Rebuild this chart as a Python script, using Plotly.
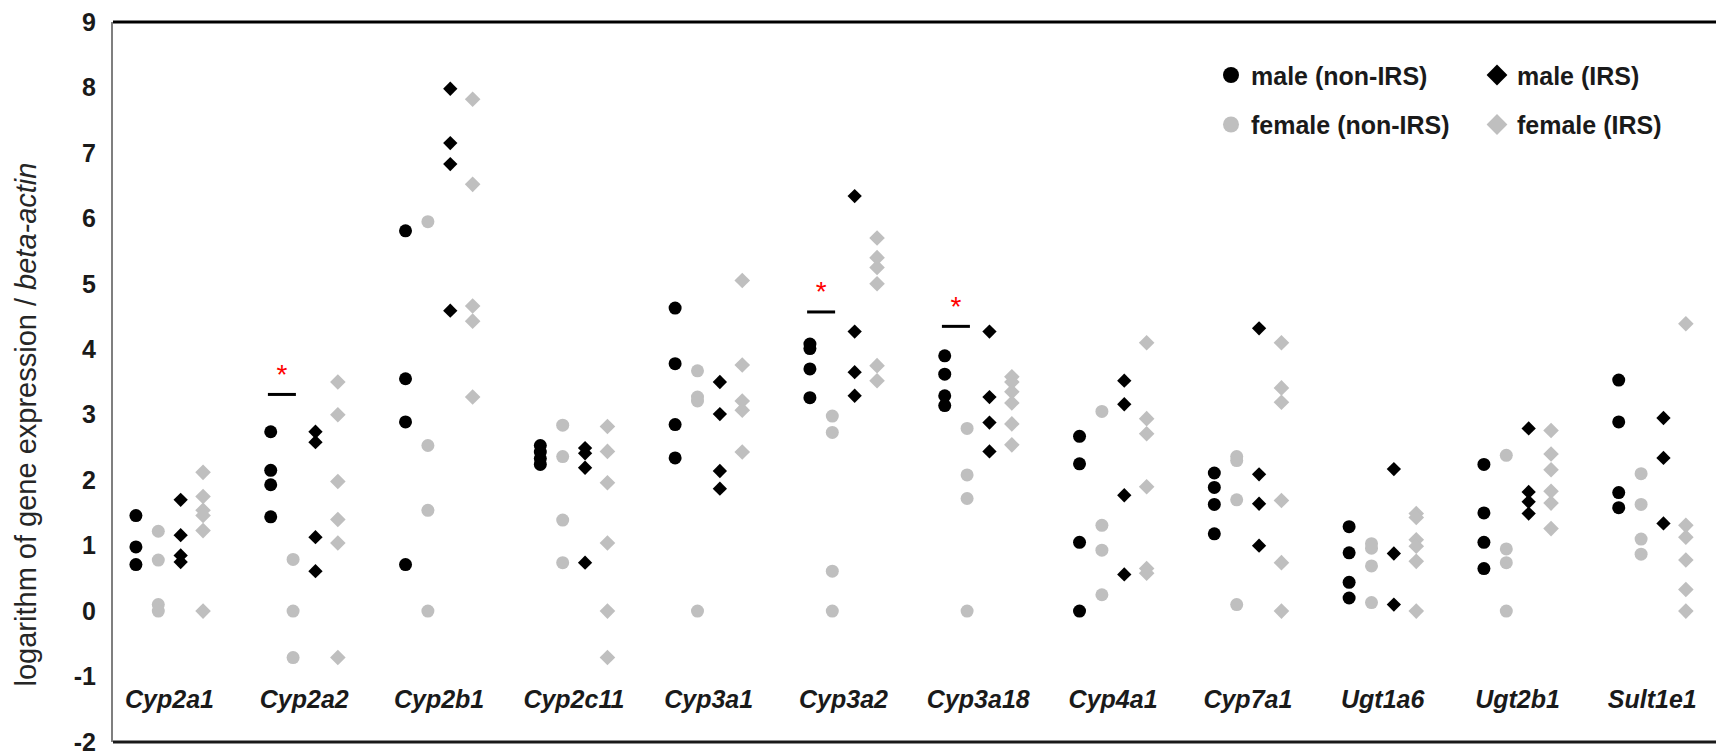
import plotly.graph_objects as go

genes = ["Cyp2a1", "Cyp2a2", "Cyp2b1", "Cyp2c11", "Cyp3a1", "Cyp3a2",
         "Cyp3a18", "Cyp4a1", "Cyp7a1", "Ugt1a6", "Ugt2b1", "Sult1e1"]

# log expression / beta-actin, one list per gene
male_non_irs = [
    [1.46, 0.98, 0.71],
    [2.74, 2.15, 1.93, 1.44],
    [5.81, 3.55, 2.89, 0.71],
    [2.53, 2.43, 2.33, 2.24],
    [4.63, 3.78, 2.85, 2.34],
    [4.08, 4.01, 3.70, 3.26],
    [3.90, 3.62, 3.29, 3.14],
    [2.67, 2.25, 1.05, 0.0],
    [2.11, 1.89, 1.63, 1.18],
    [1.29, 0.89, 0.44, 0.20],
    [2.24, 1.50, 1.05, 0.65],
    [3.53, 2.89, 1.81, 1.58],
]
female_non_irs = [
    [1.22, 0.78, 0.10, 0.0],
    [0.79, 0.0, -0.71],
    [5.95, 2.53, 1.54, 0.0],
    [2.84, 2.36, 1.39, 0.74],
    [3.67, 3.27, 3.21, 0.0],
    [2.98, 2.73, 0.61, 0.0],
    [2.79, 2.08, 1.72, 0.0],
    [3.05, 1.31, 0.93, 0.25],
    [2.36, 2.30, 1.70, 0.10],
    [1.03, 0.96, 0.69, 0.13],
    [2.38, 0.95, 0.74, 0.0],
    [2.10, 1.63, 1.10, 0.87],
]
male_irs = [
    [1.70, 1.16, 0.85, 0.75],
    [2.74, 2.58, 1.13, 0.61],
    [7.98, 7.15, 6.83, 4.59],
    [2.49, 2.41, 2.19, 0.74],
    [3.50, 3.01, 2.14, 1.87],
    [6.34, 4.27, 3.65, 3.29],
    [4.27, 3.27, 2.88, 2.44],
    [3.52, 3.16, 1.77, 0.56],
    [4.32, 2.09, 1.64, 1.00],
    [2.17, 0.88, 0.10],
    [2.79, 1.82, 1.67, 1.49],
    [2.95, 2.34, 1.34],
]
female_irs = [
    [2.12, 1.75, 1.54, 1.46, 1.23, 0.0],
    [3.50, 3.00, 1.98, 1.40, 1.04, -0.71],
    [7.82, 6.52, 4.66, 4.43, 3.27],
    [2.82, 2.44, 1.96, 1.04, 0.0, -0.71],
    [5.05, 3.76, 3.21, 3.07, 2.43],
    [5.70, 5.40, 5.25, 5.00, 3.75, 3.52],
    [3.58, 3.50, 3.35, 3.18, 2.86, 2.54],
    [4.10, 2.94, 2.71, 1.90, 0.65, 0.58],
    [4.10, 3.41, 3.19, 1.69, 0.74, 0.0],
    [1.49, 1.43, 1.09, 0.99, 0.76, 0.0],
    [2.76, 2.40, 2.16, 1.83, 1.65, 1.26],
    [4.39, 1.31, 1.13, 0.78, 0.33, 0.0],
]

# significance marks (male vs female, non-IRS)
sig_genes = ["Cyp2a2", "Cyp3a2", "Cyp3a18"]
sig_bar = [3.31, 4.57, 4.35]
sig_star = [3.57, 4.85, 4.61]

y_ticks = [-2, -1, 0, 1, 2, 3, 4, 5, 6, 7, 8, 9]
y_labels = ["-2", "-1", "0", "1", "2", "3", "4", "5", "6", "7", "8", "9"]

BLACK = "#000000"
GREY = "#BFBFBF"
FONT = "Liberation Sans"
STEP = 0.166  # spacing of the four groups inside a gene column

series = [
    ("male (non-IRS)", male_non_irs, -1.5, "circle", BLACK, 13),
    ("female (non-IRS)", female_non_irs, -0.5, "circle", GREY, 13),
    ("male (IRS)", male_irs, 0.5, "diamond", BLACK, 11),
    ("female (IRS)", female_irs, 1.5, "diamond", GREY, 12),
]

fig = go.Figure()
for name, data, slot, symbol, color, size in series:
    xs, ys = [], []
    for i, vals in enumerate(data):
        xs += [i + slot * STEP] * len(vals)
        ys += vals
    fig.add_trace(go.Scatter(
        x=xs, y=ys, mode="markers", name=name, showlegend=False,
        marker=dict(symbol=symbol, color=color, size=size),
    ))

# legend entries (bigger symbols, two columns)
for name, data, slot, symbol, color, size in series:
    fig.add_trace(go.Scatter(
        x=[None], y=[None], mode="markers", name=name,
        legend="legend" if "non-IRS" in name else "legend2",
        legendgroup=name,
        marker=dict(symbol=symbol, color=color, size=20),
    ))

sig_x = [genes.index(g) - STEP for g in sig_genes]
fig.add_trace(go.Scatter(
    x=sig_x, y=sig_bar, mode="markers", showlegend=False,
    marker=dict(symbol="line-ew", size=20, line=dict(color=BLACK, width=3)),
))
fig.add_trace(go.Scatter(
    x=sig_x, y=sig_star, mode="text", text=["*"] * len(sig_x), showlegend=False,
    textposition="middle center",
    textfont=dict(family=FONT, size=28, color="#FF0000"),
))

legend_font = dict(family=FONT, size=25, color="#1a1a1a", weight="bold")
fig.update_layout(
    width=1716, height=748,
    margin=dict(l=105, r=0, t=12, b=14),
    paper_bgcolor="white", plot_bgcolor="white",
    font=dict(family=FONT, color="#1a1a1a"),
    legend=dict(x=(1211 - 113) / 1611, y=0.958, xanchor="left", yanchor="top",
                font=legend_font, tracegroupgap=14, bgcolor="rgba(0,0,0,0)"),
    legend2=dict(x=(1477 - 113) / 1611, y=0.958, xanchor="left", yanchor="top",
                 font=legend_font, tracegroupgap=14, bgcolor="rgba(0,0,0,0)"),
    xaxis=dict(
        range=[-0.419, 11.532], anchor="free", position=0.083,
        tickvals=list(range(len(genes))), ticktext=genes,
        tickfont=dict(family=FONT, size=25, color="#1a1a1a", weight="bold", style="italic"),
        showgrid=False, zeroline=False, showline=False, ticks="",
    ),
    yaxis=dict(
        range=[-2, 9], tickvals=y_ticks, ticktext=y_labels,
        showgrid=False, zeroline=False,
        showline=True, linecolor="#7f7f7f", linewidth=2, ticks="",
        ticklabelstandoff=10, ticklabeloverflow="allow",
        tickfont=dict(family=FONT, size=25, color="#1a1a1a", weight="bold"),
    ),
    shapes=[
        dict(type="line", xref="paper", yref="paper", x0=0, x1=1, y0=1, y1=1,
             line=dict(color=BLACK, width=3)),
        dict(type="line", xref="paper", yref="paper", x0=0, x1=1, y0=0, y1=0,
             line=dict(color="#1a1a1a", width=3)),
    ],
    annotations=[
        dict(text="logarithm of gene expression / <i>beta-actin</i>",
             xref="paper", yref="paper", x=(26 - 113) / 1611, y=0.441,
             xanchor="center", yanchor="middle", textangle=-90, showarrow=False,
             font=dict(family=FONT, size=29, color="#262626")),
    ],
)

fig.write_html("out.html")
